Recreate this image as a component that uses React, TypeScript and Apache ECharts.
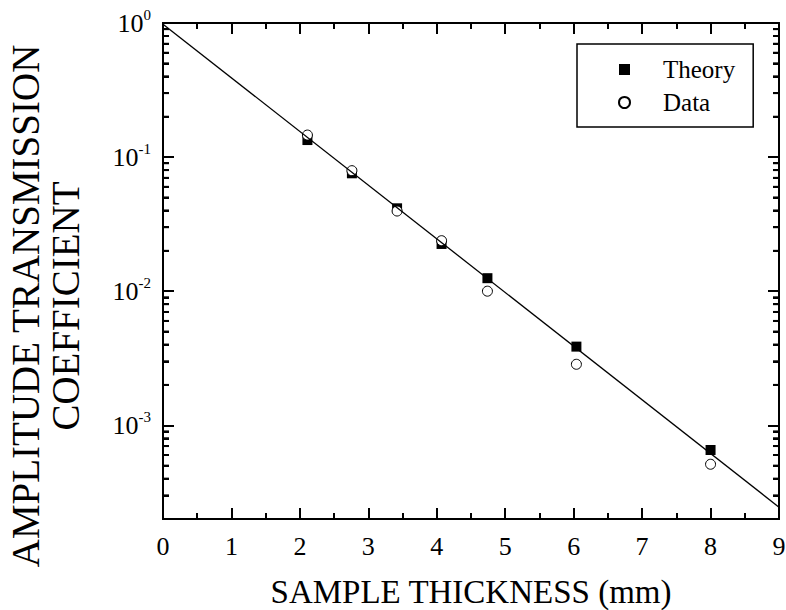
import React, { useEffect, useRef } from "react";
import * as echarts from "echarts";

const FONT = "'Liberation Serif', 'Times New Roman', Times, serif";

// Sample thickness (mm)
const thickness = [2.11, 2.76, 3.42, 4.07, 4.74, 6.04, 8.0];
// Theory amplitude transmission coefficient
const theory = [0.134, 0.0757, 0.0415, 0.0225, 0.0125, 0.00386, 0.000654];
// Measured data
const data = [0.146, 0.0792, 0.0396, 0.0238, 0.0100, 0.00285, 0.000512];
// Fitted exponential line (end points)
const fitX = [0, 9];
const fitY = [0.98, 0.000245];

// Axis ranges & ticks
const X_MIN = 0;
const X_MAX = 9;
const Y_MIN_VAL = 0.0002;
const Y_MAX_VAL = 1;
const majorTickValues = [0.001, 0.01, 0.1, 1];
const minorTickValues = [
  0.0003, 0.0004, 0.0005, 0.0006, 0.0007, 0.0008, 0.0009,
  0.002, 0.003, 0.004, 0.005, 0.006, 0.007, 0.008, 0.009,
  0.02, 0.03, 0.04, 0.05, 0.06, 0.07, 0.08, 0.09,
  0.2, 0.3, 0.4, 0.5, 0.6, 0.7, 0.8, 0.9,
];

const X_TITLE = "SAMPLE THICKNESS (mm)";
const Y_TITLE = "AMPLITUDE TRANSMISSION\nCOEFFICIENT";

export default function App() {
  const ref = useRef<HTMLDivElement>(null);

  useEffect(() => {
    if (!ref.current) return;
    const chart = echarts.init(ref.current, undefined, { renderer: "svg" });

    const yMin = Math.log10(Y_MIN_VAL);
    const yMax = Math.log10(Y_MAX_VAL);
    const majorLogs = majorTickValues.map((v) => Math.round(Math.log10(v)));
    const minorLogs = minorTickValues.map((v) => Math.log10(v));

    const black = "#000";
    const lineStyle = { color: black, width: 2 };

    const xBase = (pos: "bottom" | "top", labels: boolean) => ({
      type: "value",
      position: pos,
      min: X_MIN,
      max: X_MAX,
      interval: 1,
      axisLine: { show: true, onZero: false, lineStyle },
      axisTick: { show: true, inside: true, length: 11, lineStyle },
      minorTick: { show: true, splitNumber: 2, length: 6, lineStyle },
      splitLine: { show: false },
      minorSplitLine: { show: false },
      axisLabel: {
        show: labels,
        fontSize: 26,
        fontFamily: FONT,
        color: black,
        margin: 14,
      },
      ...(labels
        ? {
            name: X_TITLE,
            nameLocation: "middle",
            nameGap: 59,
            nameTextStyle: { fontSize: 33, fontFamily: FONT, color: black, lineHeight: 28 },
          }
        : {}),
    });

    const yAxisDef = (pos: "left" | "right", labels: boolean) => ({
      type: "value",
      position: pos,
      min: yMin,
      max: yMax,
      axisLine: { show: true, onZero: false, lineStyle },
      axisTick: {
        show: true,
        inside: true,
        length: 11,
        lineStyle,
        customValues: majorLogs,
      },
      splitLine: { show: false },
      axisLabel: {
        show: labels,
        customValues: majorLogs,
        margin: 12,
        formatter: (v: number) => `{b|10}{s|${Math.round(v)}}`,
        rich: {
          b: { fontSize: 26, fontFamily: FONT, color: black, lineHeight: 32 },
          s: {
            fontSize: 15,
            fontFamily: FONT,
            color: black,
            lineHeight: 15,
            verticalAlign: "top",
          },
        },
      },
      ...(labels
        ? {
            name: Y_TITLE,
            nameLocation: "middle",
            nameGap: 78,
            nameRotate: 90,
            nameTextStyle: {
              fontSize: 39,
              fontFamily: FONT,
              color: black,
              lineHeight: 40,
              padding: [0, 70, 0, 0],
            },
          }
        : {}),
    });

    // Extra overlapping y axes carrying only the short minor log ticks
    const yMinorDef = (pos: "left" | "right") => ({
      type: "value",
      position: pos,
      min: yMin,
      max: yMax,
      axisLine: { show: true, onZero: false, lineStyle },
      axisTick: {
        show: true,
        inside: true,
        length: 6,
        lineStyle,
        customValues: minorLogs,
      },
      splitLine: { show: false },
      axisLabel: {
        show: true,
        customValues: minorLogs,
        formatter: () => "",
        fontSize: 1,
      },
    });

    const option: any = {
      animation: false,
      backgroundColor: "#fff",
      textStyle: { fontFamily: FONT, color: black },
      grid: {
        left: 163,
        right: 7,
        top: 23,
        bottom: 91,
        containLabel: false,
        outerBoundsMode: "none",
      },
      legend: {
        orient: "vertical",
        left: 577,
        top: 44,
        padding: [13, 18, 12, 41],
        borderColor: black,
        borderWidth: 1.5,
        itemWidth: 11,
        itemHeight: 11,
        itemGap: 8,
        selectedMode: false,
        data: ["Theory", "Data"],
        textStyle: {
          fontFamily: "Liberation Serif",
          fontSize: 25,
          color: black,
          lineHeight: 25,
          padding: [0, 0, 0, 28],
        },
      },
      xAxis: [xBase("bottom", true), xBase("top", false)],
      yAxis: [
        yAxisDef("left", true),
        yAxisDef("right", false),
        yMinorDef("left"),
        yMinorDef("right"),
      ],
      series: [
        {
          name: "Theory",
          type: "scatter",
          symbol: "rect",
          symbolSize: 10,
          itemStyle: { color: black, opacity: 1 },
          data: thickness.map((x, i) => [x, Math.log10(theory[i])]),
          z: 2,
        },
        {
          name: "Data",
          type: "scatter",
          symbol: "circle",
          symbolSize: 10,
          itemStyle: { color: "#fff", borderColor: black, borderWidth: 1, opacity: 1 },
          data: thickness.map((x, i) => [x, Math.log10(data[i])]),
          z: 3,
        },
        {
          name: "Fit",
          type: "line",
          symbol: "none",
          showSymbol: false,
          lineStyle: { color: black, width: 1.3 },
          data: fitX.map((x, i) => [x, Math.log10(fitY[i])]),
          z: 4,
        },
      ],
    };

    chart.setOption(option);

    // Minor log ticks also placed through the chart's own y scale (same positions)
    const ticks: any[] = [];
    for (const v of minorLogs) {
      const pL = chart.convertToPixel({ gridIndex: 0 }, [X_MIN, v]) as number[];
      const pR = chart.convertToPixel({ gridIndex: 0 }, [X_MAX, v]) as number[];
      if (!pL || !pR || isNaN(pL[1])) continue;
      ticks.push({
        type: "line",
        silent: true,
        z: 10,
        shape: { x1: pL[0], y1: pL[1], x2: pL[0] + 6, y2: pL[1] },
        style: { stroke: black, lineWidth: 2 },
      });
      ticks.push({
        type: "line",
        silent: true,
        z: 10,
        shape: { x1: pR[0] - 6, y1: pR[1], x2: pR[0], y2: pR[1] },
        style: { stroke: black, lineWidth: 2 },
      });
    }
    chart.setOption({ graphic: ticks });

    return () => chart.dispose();
  }, []);

  return (
    <div
      ref={ref}
      style={{ position: "fixed", left: 0, top: 0, width: 786, height: 610, background: "#fff" }}
    />
  );
}
